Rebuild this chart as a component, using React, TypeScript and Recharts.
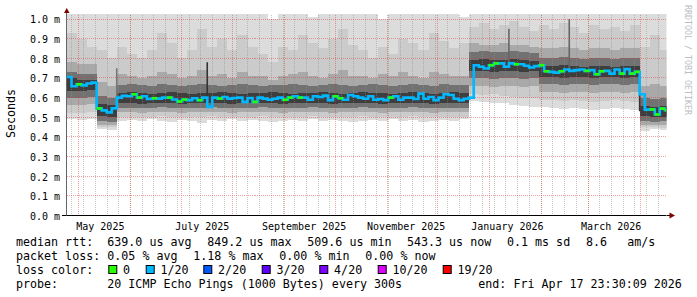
import { ComposedChart, Area, Line, Scatter, Bar, Cell, XAxis, YAxis, ReferenceLine } from 'recharts';

const BIN_DAYS = 3;
const END_DAY = 358;
const PX_PER_DAY = 600 / END_DAY;

// median rtt (ms), one value per 3-day bin
const median = [
  0.705, 0.658, 0.668, 0.662, 0.672, 0.676,
  0.545, 0.535, 0.525, 0.545,
  0.600, 0.609, 0.607, 0.617, 0.600, 0.607, 0.593, 0.597, 0.595, 0.600,
  0.600, 0.590, 0.580, 0.590, 0.587, 0.597, 0.587, 0.600, 0.553, 0.600,
  0.595, 0.603, 0.595, 0.598, 0.600, 0.578, 0.598, 0.578, 0.600, 0.595,
  0.589, 0.594, 0.600, 0.589, 0.600, 0.607, 0.600, 0.600, 0.589, 0.607,
  0.603, 0.610, 0.587, 0.607, 0.597, 0.589, 0.613, 0.607, 0.600, 0.594,
  0.607, 0.589, 0.593, 0.587, 0.600, 0.607, 0.589, 0.600, 0.600, 0.593,
  0.620, 0.594, 0.603, 0.587, 0.600, 0.617, 0.613, 0.594, 0.587, 0.594,
  0.600,
  0.765, 0.757, 0.748, 0.765, 0.774, 0.774, 0.757, 0.774, 0.770, 0.770,
  0.762, 0.753, 0.760, 0.765, 0.734, 0.731, 0.727, 0.734, 0.743, 0.736,
  0.740, 0.743, 0.736, 0.740, 0.719, 0.734, 0.736, 0.722, 0.743, 0.722,
  0.745, 0.722, 0.731,
  0.617, 0.539, 0.540, 0.514, 0.544, 0.536,
];

// lost pings per bin (out of 20)
const loss = [
  1, 1, 0, 1, 1, 1, 0, 1, 1, 1,
  1, 1, 1, 0, 0, 1, 1, 0, 1, 1,
  0, 1, 0, 0, 1, 1, 0, 1, 1, 1,
  0, 1, 1, 1, 1, 1, 1, 0, 1, 1,
  1, 1, 1, 0, 0, 1, 0, 1, 1, 1,
  1, 1, 1, 0, 0, 1, 1, 1, 1, 1,
  1, 1, 1, 1, 0, 1, 1, 1, 1, 1,
  1, 1, 1, 1, 1, 1, 1, 1, 1, 1,
  1, 1, 1, 1, 0, 0, 1, 1, 1, 0,
  1, 1, 1, 1, 0, 0, 1, 1, 0, 1,
  1, 1, 1, 0, 1, 0, 0, 1, 1, 1,
  0, 1, 0, 0, 1, 1, 0, 0, 0, 0,
];

// smoke band edges, one value per 6-day bin (ms), outermost first
const smokeTop = [
  1.03, 1.03, 1.03, 1.03, 1.03, 1.03, 1.03, 1.03, 1.03, 1.03,
  1.03, 1.03, 1.03, 1.03, 1.03, 1.03, 1.03, 1.03, 1.03, 1.03,
  1.00, 1.03, 1.03, 1.03, 1.01, 1.03, 1.03, 1.03, 1.03, 1.03,
  1.03, 1.00, 1.03, 1.03, 1.03, 1.03, 1.03, 1.03, 1.03, 1.01,
  1.03, 1.03, 1.03, 1.03, 1.03, 1.03, 1.03, 1.03, 1.03, 1.03,
  1.03, 1.03, 1.03, 1.03, 1.03, 1.03, 1.03, 1.03, 1.03, 1.03,
];
const smokeHi = [
  0.93, 0.90, 0.86, 0.84, 0.80,
  0.86, 0.82, 0.80, 0.84, 0.93, 0.88, 0.80, 0.84, 0.95, 0.86,
  0.90, 0.84, 0.92, 0.86, 0.82, 0.78, 0.86, 0.84, 0.92, 0.88,
  0.85, 0.90, 0.95, 0.87, 0.84, 0.80, 0.86, 0.82, 0.90, 0.88,
  0.84, 0.93, 0.89, 0.85, 0.88,
  0.96, 0.98, 0.95, 0.97, 0.99, 0.96, 0.94, 0.97, 0.95, 0.98,
  0.96, 0.93, 0.97, 0.95, 0.96, 0.94, 0.97,
  0.86, 0.92, 0.84,
];
const smokeUp = [
  0.78, 0.77, 0.77, 0.68, 0.66,
  0.72, 0.71, 0.70, 0.71, 0.73, 0.72, 0.70, 0.71, 0.74, 0.71,
  0.72, 0.70, 0.73, 0.71, 0.71, 0.69, 0.71, 0.72, 0.73, 0.71,
  0.70, 0.72, 0.74, 0.71, 0.71, 0.70, 0.72, 0.71, 0.73, 0.71,
  0.70, 0.73, 0.72, 0.71, 0.71,
  0.88, 0.87, 0.87, 0.88, 0.87, 0.87, 0.86, 0.85, 0.85, 0.86,
  0.85, 0.84, 0.85, 0.85, 0.84, 0.85, 0.85,
  0.66, 0.67, 0.66,
];
const smokeUp2 = [
  0.73, 0.72, 0.72, 0.61, 0.60,
  0.665, 0.67, 0.665, 0.66, 0.67, 0.665, 0.66, 0.665, 0.67, 0.665,
  0.66, 0.665, 0.67, 0.665, 0.66, 0.665, 0.665, 0.67, 0.665, 0.66,
  0.665, 0.67, 0.665, 0.66, 0.665, 0.67, 0.665, 0.66, 0.665, 0.67,
  0.665, 0.66, 0.67, 0.665, 0.665,
  0.83, 0.835, 0.83, 0.83, 0.835, 0.83, 0.825, 0.80, 0.80, 0.805,
  0.80, 0.795, 0.80, 0.80, 0.795, 0.80, 0.80,
  0.60, 0.595, 0.60,
];
const smokeUp3 = [
  0.70, 0.69, 0.69, 0.565, 0.56,
  0.625, 0.63, 0.625, 0.62, 0.625, 0.63, 0.625, 0.62, 0.625, 0.625,
  0.63, 0.625, 0.62, 0.625, 0.625, 0.63, 0.625, 0.62, 0.625, 0.625,
  0.63, 0.625, 0.62, 0.625, 0.63, 0.625, 0.625, 0.62, 0.625, 0.63,
  0.625, 0.62, 0.625, 0.63, 0.625,
  0.79, 0.795, 0.79, 0.79, 0.795, 0.79, 0.785, 0.76, 0.76, 0.765,
  0.76, 0.755, 0.76, 0.76, 0.755, 0.76, 0.76,
  0.555, 0.55, 0.555,
];
const smokeDn3 = [
  0.635, 0.635, 0.64, 0.505, 0.50,
  0.57, 0.57, 0.565, 0.57, 0.575, 0.57, 0.565, 0.57, 0.57, 0.575,
  0.57, 0.565, 0.57, 0.57, 0.575, 0.57, 0.565, 0.57, 0.57, 0.575,
  0.57, 0.565, 0.57, 0.57, 0.575, 0.57, 0.565, 0.57, 0.57, 0.575,
  0.57, 0.565, 0.57, 0.57, 0.57,
  0.735, 0.735, 0.73, 0.735, 0.735, 0.73, 0.735, 0.705, 0.705, 0.70,
  0.705, 0.705, 0.70, 0.705, 0.705, 0.70, 0.705,
  0.505, 0.50, 0.50,
];
const smokeDn2 = [
  0.60, 0.60, 0.605, 0.48, 0.478,
  0.548, 0.548, 0.545, 0.548, 0.55, 0.548, 0.545, 0.548, 0.548, 0.55,
  0.548, 0.545, 0.548, 0.548, 0.55, 0.548, 0.545, 0.548, 0.548, 0.55,
  0.548, 0.545, 0.548, 0.548, 0.55, 0.548, 0.545, 0.548, 0.548, 0.55,
  0.548, 0.545, 0.548, 0.548, 0.548,
  0.70, 0.70, 0.695, 0.70, 0.70, 0.695, 0.70, 0.67, 0.67, 0.665,
  0.67, 0.67, 0.665, 0.67, 0.67, 0.665, 0.67,
  0.48, 0.478, 0.48,
];
const smokeDn = [
  0.56, 0.56, 0.565, 0.462, 0.46,
  0.525, 0.525, 0.52, 0.525, 0.527, 0.525, 0.52, 0.525, 0.525, 0.527,
  0.525, 0.52, 0.525, 0.525, 0.527, 0.525, 0.52, 0.525, 0.525, 0.527,
  0.525, 0.52, 0.525, 0.525, 0.527, 0.525, 0.52, 0.525, 0.525, 0.527,
  0.525, 0.52, 0.525, 0.525, 0.525,
  0.66, 0.66, 0.655, 0.66, 0.66, 0.655, 0.66, 0.63, 0.63, 0.625,
  0.63, 0.63, 0.625, 0.63, 0.63, 0.625, 0.63,
  0.462, 0.46, 0.46,
];
const smokeLo = [
  0.52, 0.52, 0.525, 0.45, 0.448,
  0.502, 0.502, 0.50, 0.502, 0.505, 0.502, 0.50, 0.502, 0.502, 0.505,
  0.502, 0.50, 0.502, 0.502, 0.505, 0.502, 0.50, 0.502, 0.502, 0.505,
  0.502, 0.50, 0.502, 0.502, 0.505, 0.502, 0.50, 0.502, 0.502, 0.505,
  0.502, 0.50, 0.502, 0.502, 0.502,
  0.62, 0.615, 0.62, 0.61, 0.605, 0.60, 0.60, 0.59, 0.59, 0.585,
  0.59, 0.585, 0.58, 0.585, 0.59, 0.585, 0.58,
  0.448, 0.45, 0.446,
];
const smokeBot = [
  0.49, 0.485, 0.49, 0.44, 0.435,
  0.48, 0.485, 0.48, 0.49, 0.48, 0.475, 0.485, 0.48, 0.47, 0.485,
  0.48, 0.49, 0.48, 0.485, 0.48, 0.475, 0.48, 0.485, 0.48, 0.49,
  0.48, 0.485, 0.48, 0.475, 0.48, 0.485, 0.48, 0.49, 0.48, 0.485,
  0.475, 0.48, 0.485, 0.48, 0.49,
  0.585, 0.58, 0.575, 0.57, 0.56, 0.555, 0.55, 0.55, 0.545, 0.54,
  0.545, 0.54, 0.535, 0.54, 0.545, 0.54, 0.535,
  0.43, 0.44, 0.435,
];

// single-bin streaks in the smoke (bin index, low, high)
const spikeBins = [6, 10, 28, 81, 88, 100, 114];
const spikeLow = [0.54, 0.60, 0.60, 0.60, 0.77, 0.74, 0.53];
const spikeHigh = [0.68, 0.75, 0.78, 0.765, 0.95, 1.0, 0.73];
const spikeFill = ['#333', '#777', '#333', '#333', '#666', '#666', '#333'];

const monthStarts = [7.34, 38.34, 68.34, 99.34, 130.34, 160.34, 191.34, 221.34, 252.34, 283.34, 311.34, 342.34];
const weekStarts = Array.from({ length: 51 }, (_, k) => 3.2 + 7 * k);
const yTicks = [0, 0.1, 0.2, 0.3, 0.4, 0.5, 0.6, 0.7, 0.8, 0.9, 1.0];
const xLabelDays = [20.2, 81, 141.8, 202.7, 263.1, 325];
const xLabels = ['May 2025', 'July 2025', 'September 2025', 'November 2025', 'January 2026', 'March 2026'];

const lossLabels = ['0', '1/20', '2/20', '3/20', '4/20', '10/20', '19/20'];
const lossColors = ['#26ff00', '#00b8ff', '#0059ff', '#5e00ff', '#7e00ff', '#dd00ff', '#ff0000'];

const bands = [
  { key: 'band1', lo: smokeBot, hi: smokeTop, fill: '#dcdcdc' },
  { key: 'band2', lo: smokeLo, hi: smokeHi, fill: '#cbcbcb' },
  { key: 'band3', lo: smokeDn, hi: smokeUp, fill: '#a9a9a9' },
  { key: 'band4', lo: smokeDn2, hi: smokeUp2, fill: '#727272' },
  { key: 'band5', lo: smokeDn3, hi: smokeUp3, fill: '#3e3e3e' },
];

const rows: any[] = median.map((m, i) => {
  const j = Math.floor(i / 2);
  const s = spikeBins.indexOf(i);
  const row: any = {
    day: i * BIN_DAYS,
    median: m,
    green: loss[i] === 0 ? m : null,
    spike: s >= 0 ? [spikeLow[s], spikeHigh[s]] : null,
    spikeIdx: s,
  };
  bands.forEach((b) => { row[b.key] = [b.lo[j], b.hi[j]]; });
  return row;
});
rows.push({ ...rows[rows.length - 1], day: END_DAY, green: null, spike: null, spikeIdx: -1 });

const mono = '"DejaVu Sans Mono", monospace';

const YTick = ({ x, y, payload }: any) => (
  <text x={x} y={y} dy={4.3} textAnchor="end" fontFamily={mono} fontSize={10} fill="#000">
    {payload.value.toFixed(1)} m
  </text>
);

const XTick = ({ x, y, payload }: any) => (
  <text x={x} y={y} dy={6} textAnchor="middle" fontFamily={mono} fontSize={10} fill="#000">
    {xLabels[xLabelDays.indexOf(payload.value)]}
  </text>
);

const GreenStep = (p: any) =>
  p.payload?.green == null ? null : (
    <rect x={p.cx} y={p.cy - 1.3} width={BIN_DAYS * PX_PER_DAY} height={2.6} fill={lossColors[0]} />
  );

const line1: [number, string][] = [
  [16, 'median rtt:'], [107.3, '639.0 us avg'], [207.3, '849.2 us max'], [307.3, '509.6 us min'],
  [407, '543.3 us now'], [507, '0.1 ms sd'], [586, '8.6'], [627.3, 'am/s'],
];
const line2: [number, string][] = [
  [16, 'packet loss:'], [107.3, '0.05 % avg'], [193.3, '1.18 % max'], [279.3, '0.00 % min'], [365.3, '0.00 % now'],
];
const boxX = [108.3, 145.7, 203.3, 261.7, 319.3, 377.7, 442.7];

function Overlay() {
  const t = { fontFamily: mono, fontSize: 11.67, fill: '#000' };
  return (
    <svg width={697} height={297} style={{ position: 'absolute', left: 0, top: 0, pointerEvents: 'none' }}>
      <text transform="translate(15,113.5) rotate(-90)" textAnchor="middle" {...t}>Seconds</text>
      <text transform="translate(684.5,5) rotate(90)" fontFamily={mono} fontSize={8.3} fill="#bdbdbd">
        RRDTOOL / TOBI OETIKER
      </text>
      <line x1={62} x2={66.5} y1={215.5} y2={215.5} stroke="#000" />
      <line x1={667} x2={670} y1={215.5} y2={215.5} stroke="#000" />
      <line x1={66.5} x2={66.5} y1={12} y2={14} stroke="#666" />
      <polygon points="64,13 69.5,13 66.75,8" fill="#7f0000" />
      <polygon points="669.5,212.5 669.5,218.5 675,215.5" fill="#7f0000" />
      {line1.map(([x, s]) => <text key={'a' + x} x={x} y={245.5} {...t}>{s}</text>)}
      {line2.map(([x, s]) => <text key={'b' + x} x={x} y={259.5} {...t}>{s}</text>)}
      <text x={16} y={273.5} {...t}>loss color:</text>
      {boxX.map((x, i) => (
        <g key={'c' + i}>
          <rect x={x + 0.5} y={265.5} width={8} height={8} fill={lossColors[i]} stroke="#000" />
          <text x={x + 14.8} y={273.5} {...t}>{lossLabels[i]}</text>
        </g>
      ))}
      <text x={16} y={287.5} {...t}>probe:</text>
      <text x={107.3} y={287.5} {...t}>20 ICMP Echo Pings (1000 Bytes) every 300s</text>
      <text x={478.3} y={287.5} {...t}>end: Fri Apr 17 23:30:09 2026</text>
    </svg>
  );
}

export default function App() {
  return (
    <div style={{ position: 'absolute', left: 0, top: 0, width: 697, height: 297, background: '#fff' }}>
      <ComposedChart width={697} height={297} data={rows} margin={{ top: 14, right: 30.5, bottom: 61.5, left: 6.5 }}>
        <XAxis
          dataKey="day" type="number" domain={[0, END_DAY]} allowDataOverflow
          ticks={xLabelDays} interval={0} tick={<XTick />} tickLine={false}
          axisLine={{ stroke: '#000' }} height={20}
        />
        <YAxis
          type="number" domain={[0, 1.02545]} allowDataOverflow ticks={yTicks} interval={0}
          tick={<YTick />} tickLine={false} tickSize={6.5} tickMargin={0}
          axisLine={{ stroke: '#666' }} width={60}
        />
        {bands.map((b) => (
          <Area key={b.key} dataKey={b.key} type="stepAfter" stroke="none" fill={b.fill} fillOpacity={1}
            shapeRendering="crispEdges" isAnimationActive={false} activeDot={false} />
        ))}
        <Bar dataKey="spike" barSize={1.6} isAnimationActive={false}>
          {rows.map((r, i) => <Cell key={i} fill={r.spikeIdx >= 0 ? spikeFill[r.spikeIdx] : 'none'} />)}
        </Bar>
        {weekStarts.map((d) => (
          <ReferenceLine key={'w' + d} x={d} stroke="#8f8f8f" strokeOpacity={0.5} strokeDasharray="1 1"
            shapeRendering="crispEdges" />
        ))}
        {monthStarts.map((d) => (
          <ReferenceLine key={'m' + d} x={d} stroke="#de302f" strokeOpacity={0.45} strokeDasharray="1 1"
            shapeRendering="crispEdges" />
        ))}
        {yTicks.slice(1).map((v) => (
          <ReferenceLine key={'h' + v} y={v} stroke="#de302f" strokeOpacity={0.45} strokeDasharray="1 1"
            shapeRendering="crispEdges" />
        ))}
        <Line dataKey="median" type="stepAfter" stroke={lossColors[1]} strokeWidth={2.6} dot={false} activeDot={false} isAnimationActive={false} />
        <Scatter dataKey="green" shape={<GreenStep />} isAnimationActive={false} />
      </ComposedChart>
      <Overlay />
    </div>
  );
}
